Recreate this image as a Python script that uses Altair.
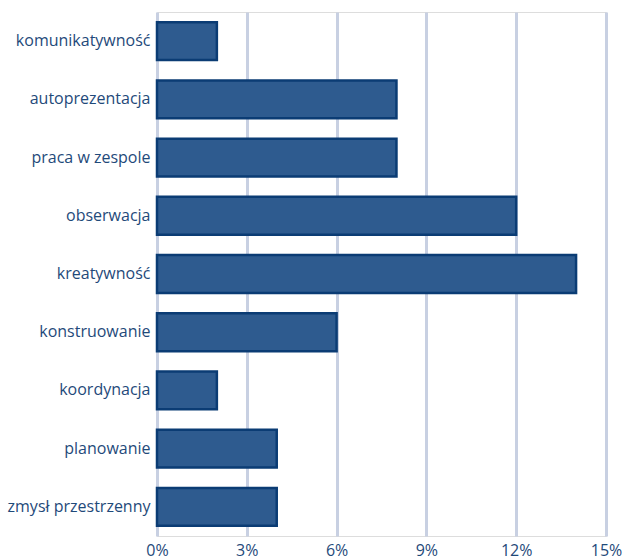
import altair as alt
import pandas as pd

categories = ["komunikatywność", "autoprezentacja", "praca w zespole", "obserwacja",
              "kreatywność", "konstruowanie", "koordynacja", "planowanie", "zmysł przestrzenny"]
values = [2, 8, 8, 12, 14, 6, 2, 4, 4]
x_ticks = [0, 3, 6, 9, 12, 15]

df = pd.DataFrame({"cat": categories, "val": [v / 100 for v in values]})

text_color = "#1f4a7a"

chart = alt.Chart(df).mark_bar(
    color="#2e5b8f", stroke="#0b3c74", strokeWidth=2.5
).encode(
    x=alt.X("val:Q",
            scale=alt.Scale(domain=[0, 0.15], nice=False),
            axis=alt.Axis(values=[t / 100 for t in x_ticks], format=".0%", title=None,
                          grid=True, gridColor="#c8d0e2", gridWidth=3,
                          domain=False, ticks=False, labelPadding=6,
                          labelFontSize=16, labelColor=text_color, labelFont="Open Sans",
                          labelFlush=False)),
    y=alt.Y("cat:N", sort=categories,
            scale=alt.Scale(paddingInner=0.35, paddingOuter=0.175),
            axis=alt.Axis(title=None, domain=False, ticks=False, grid=False,
                          labelPadding=7, labelFontSize=16, labelColor=text_color,
                          labelFont="Open Sans")),
).properties(
    width=449, height=524,
    autosize=alt.AutoSizeParams(type="none"),
    padding={"left": 157, "top": 12, "right": 19, "bottom": 23},
).configure_view(stroke=None).configure(background="white")

chart.save("out.html", embed_options={"renderer": "svg", "actions": False})
